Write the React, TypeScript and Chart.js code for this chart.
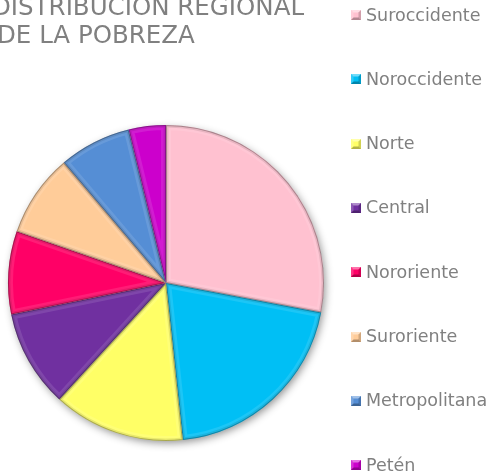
import { useEffect, useRef } from "react";
import { Chart, registerables } from "chart.js";

Chart.register(...registerables);

const regions = ["Suroccidente", "Noroccidente", "Norte", "Central", "Nororiente", "Suroriente", "Metropolitana", "Petén"];
const povertyShare = [28.0, 20.3, 13.5, 10.0, 8.5, 8.5, 7.4, 3.8];
const sliceColors = ["#FFC1D0", "#00BFF5", "#FFFF66", "#7030A0", "#FF0066", "#FFCC99", "#558ED5", "#CC00CC"];
const titleLines = ["DISTRIBUCIÓN REGIONAL", "DE LA POBREZA"];

const pieShadow = {
  id: "pieShadow",
  beforeDatasetsDraw(chart: any) {
    const meta = chart.getDatasetMeta(0);
    const arc = meta.data[0];
    if (!arc) return;
    const { x, y, outerRadius } = arc.getProps(["x", "y", "outerRadius"], true);
    const ctx = chart.ctx;
    ctx.save();
    ctx.shadowColor = "rgba(0,0,0,0.45)";
    ctx.shadowBlur = 8;
    ctx.shadowOffsetX = 2;
    ctx.shadowOffsetY = 3;
    ctx.beginPath();
    ctx.arc(x, y, outerRadius - 1, 0, Math.PI * 2);
    ctx.fillStyle = "#ffffff";
    ctx.fill();
    ctx.restore();
  },
  afterDatasetsDraw(chart: any) {
    const meta = chart.getDatasetMeta(0);
    const ctx = chart.ctx;
    meta.data.forEach((arc: any) => {
      const { x, y, startAngle, endAngle, outerRadius } = arc.getProps(
        ["x", "y", "startAngle", "endAngle", "outerRadius"],
        true
      );
      ctx.save();
      ctx.beginPath();
      ctx.moveTo(x, y);
      ctx.arc(x, y, outerRadius, startAngle, endAngle);
      ctx.closePath();
      ctx.clip();
      ctx.lineJoin = "round";
      ctx.lineWidth = 10;
      ctx.strokeStyle = "rgba(255,255,255,0.11)";
      ctx.stroke();
      ctx.lineWidth = 5;
      ctx.strokeStyle = "rgba(0,0,0,0.09)";
      ctx.stroke();
      ctx.lineWidth = 2;
      ctx.strokeStyle = "rgba(0,0,0,0.28)";
      ctx.stroke();
      ctx.restore();
    });
  },
};

const sideText = {
  id: "sideText",
  afterDraw(chart: any) {
    const ctx = chart.ctx;
    const labels = chart.data.labels as string[];
    const colors = chart.data.datasets[0].backgroundColor as string[];
    ctx.save();
    // title
    ctx.fillStyle = "#808080";
    ctx.font = "24.5px 'DejaVu Sans'";
    ctx.textBaseline = "alphabetic";
    ctx.textAlign = "left";
    ctx.fillText(titleLines[0], -8, 15);
    ctx.fillText(titleLines[1], -3, 43);
    // legend
    ctx.font = "17.5px 'DejaVu Sans'";
    ctx.textBaseline = "middle";
    labels.forEach((lab, i) => {
      const cy = 15 + i * 64.3;
      const bx = 351;
      const by = Math.round(cy) - 5;
      const s = 10;
      ctx.fillStyle = colors[i];
      ctx.fillRect(bx, by, s, s);
      const tri = (pts: number[][], col: string) => {
        ctx.beginPath();
        ctx.moveTo(pts[0][0], pts[0][1]);
        for (let k = 1; k < pts.length; k++) ctx.lineTo(pts[k][0], pts[k][1]);
        ctx.closePath();
        ctx.fillStyle = col;
        ctx.fill();
      };
      const b = 2.5;
      tri([[bx, by], [bx + s, by], [bx + s - b, by + b], [bx + b, by + b]], "rgba(255,255,255,0.45)");
      tri([[bx, by], [bx + b, by + b], [bx + b, by + s - b], [bx, by + s]], "rgba(255,255,255,0.2)");
      tri([[bx, by + s], [bx + b, by + s - b], [bx + s - b, by + s - b], [bx + s, by + s]], "rgba(0,0,0,0.3)");
      tri([[bx + s, by], [bx + s, by + s], [bx + s - b, by + s - b], [bx + s - b, by + b]], "rgba(0,0,0,0.18)");
      ctx.fillStyle = "#808080";
      ctx.fillText(lab, 366, cy + 1);
    });
    ctx.restore();
  },
};

export default function App() {
  const canvasRef = useRef<HTMLCanvasElement | null>(null);

  useEffect(() => {
    if (!canvasRef.current) return;
    const chart = new Chart(canvasRef.current, {
      type: "pie",
      data: {
        labels: regions,
        datasets: [
          {
            data: povertyShare,
            backgroundColor: sliceColors,
            borderWidth: 0,
          },
        ],
      },
      options: {
        responsive: false,
        animation: false,
        layout: { padding: { left: 8, right: 168, top: 125, bottom: 33 } },
        plugins: {
          legend: { display: false },
          title: { display: false },
          tooltip: { enabled: false },
        },
      },
      plugins: [pieShadow, sideText],
    });
    return () => chart.destroy();
  }, []);

  return (
    <div style={{ position: "absolute", left: 0, top: 0, width: 492, height: 474, background: "#ffffff" }}>
      <canvas ref={canvasRef} width={492} height={474} style={{ display: "block" }} />
    </div>
  );
}
